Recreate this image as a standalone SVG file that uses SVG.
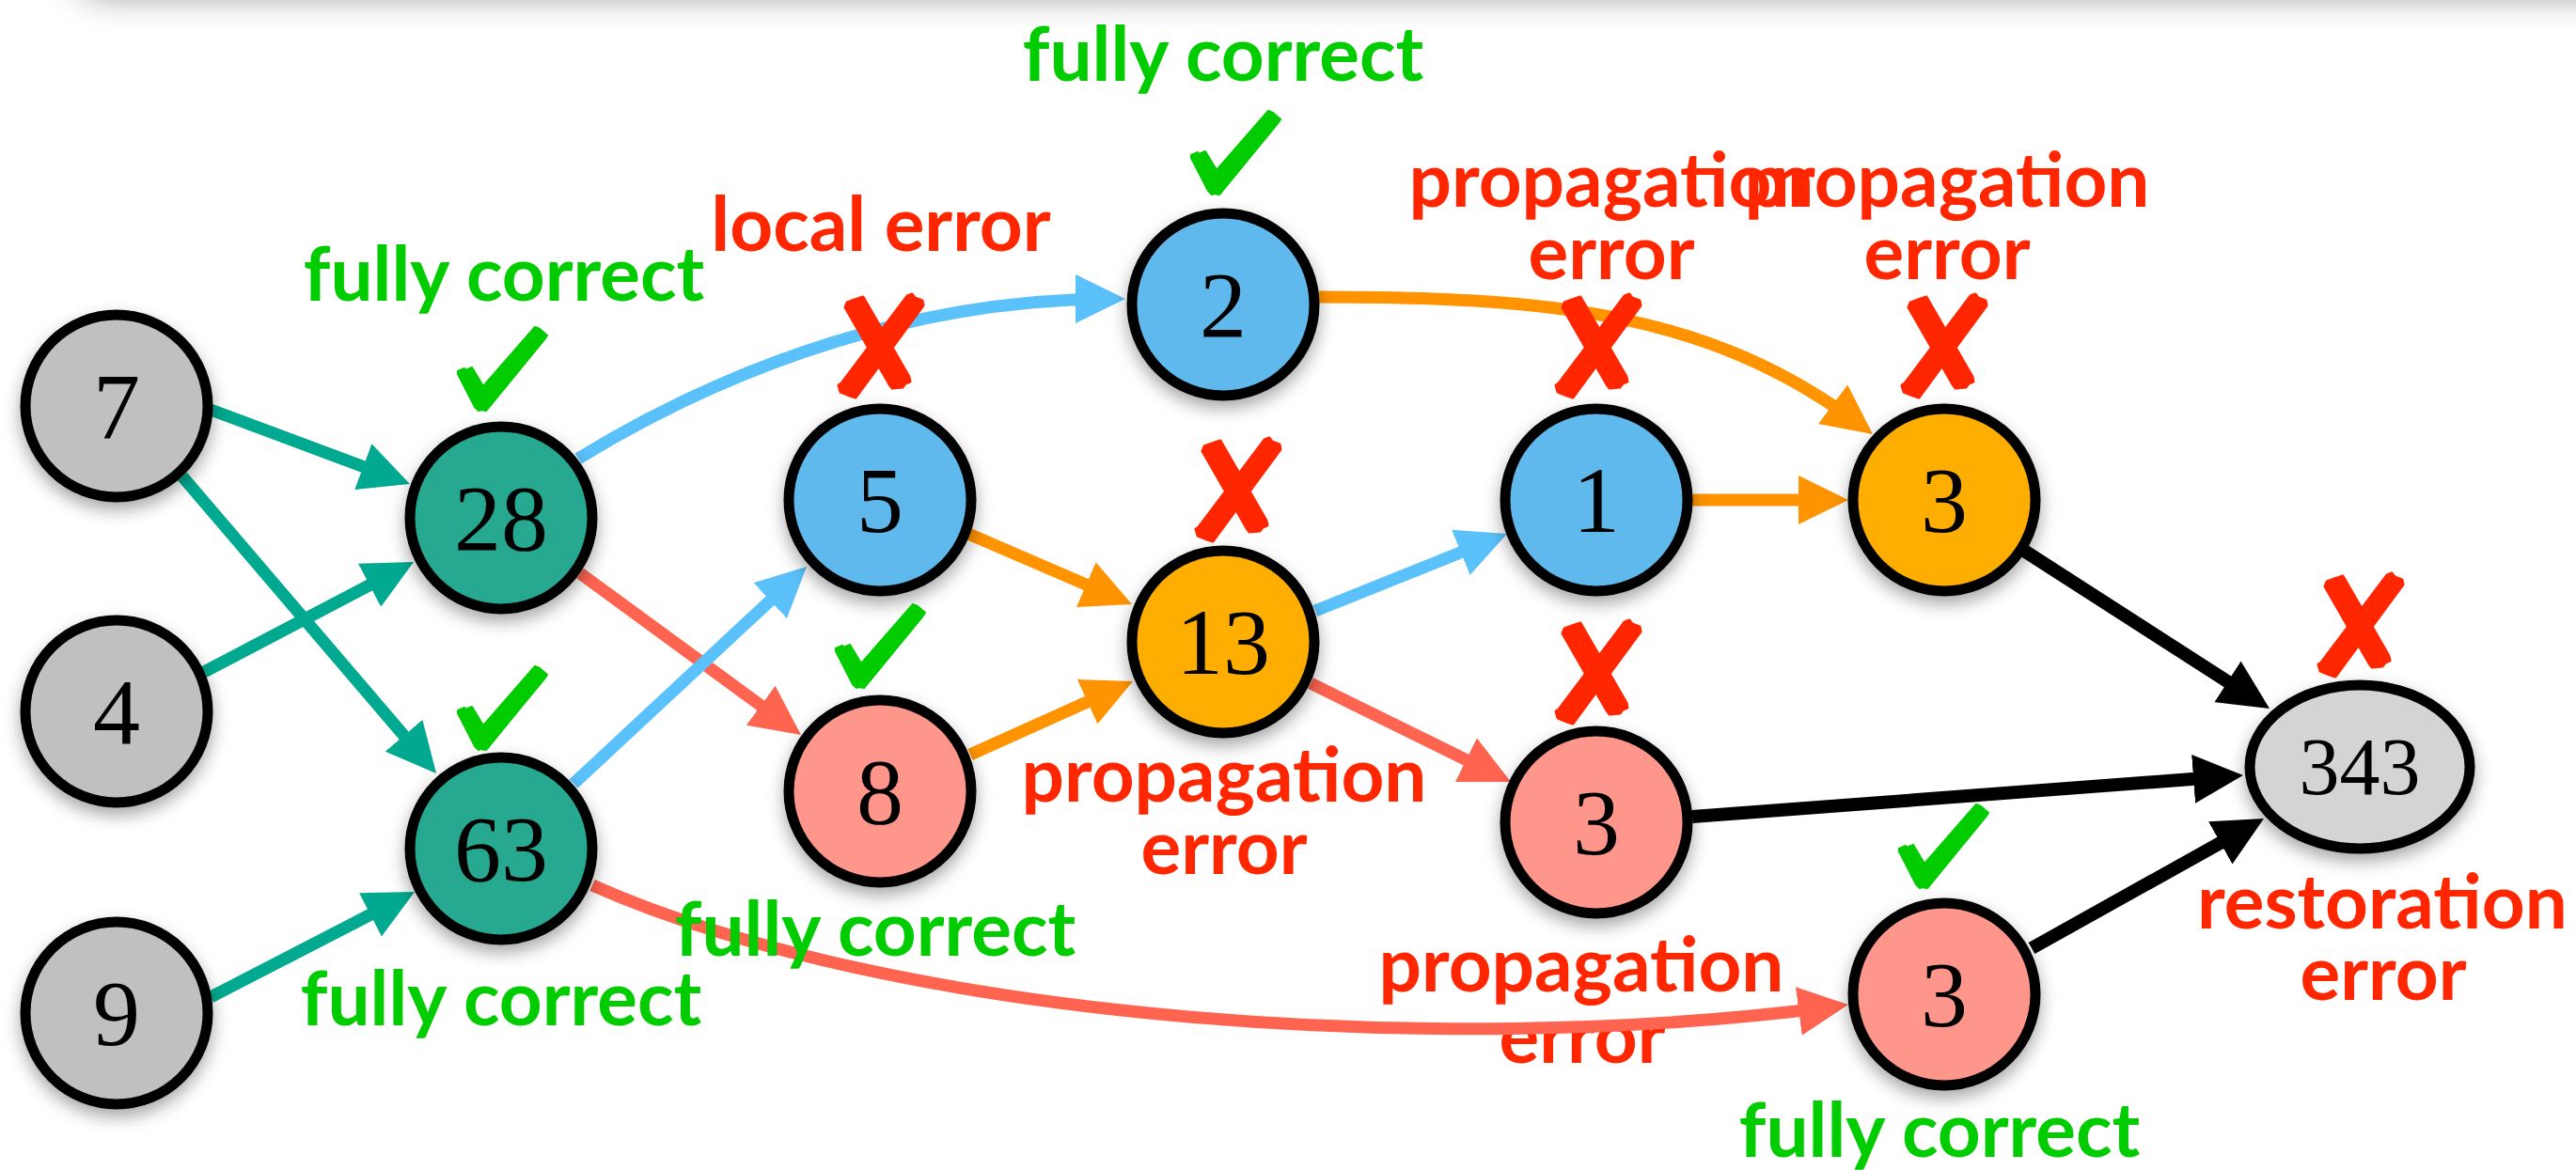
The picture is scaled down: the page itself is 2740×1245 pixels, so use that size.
<svg xmlns="http://www.w3.org/2000/svg" xmlns:xlink="http://www.w3.org/1999/xlink" width="2740" height="1245" viewBox="0 0 2740 1245">
<style>
.node{stroke:#000;stroke-width:11}
.gray{fill:#c0c0c0}.lgray{fill:#d4d4d4}.teal{fill:#26a891}.blue{fill:#61b9ec}.orange{fill:#fdae00}.pink{fill:#fe968b}
.num{font-family:"Liberation Serif","Times New Roman",serif;font-size:100px;text-anchor:middle;fill:#000}
.lbl{font-family:Lato,"Open Sans","Liberation Sans",sans-serif;font-weight:700;font-size:80px;text-anchor:middle}
.red{fill:#ff2600}.green{fill:#00cc00}
.edge{fill:none;stroke-width:13}
.e-teal{stroke:#00a98f}.e-blue{stroke:#5ac1fb}.e-orange{stroke:#ff9300}.e-pink{stroke:#ff6450}.e-black{stroke:#000;stroke-width:14}
</style>
<defs>
<filter id="sh" x="-30%" y="-30%" width="160%" height="170%"><feDropShadow dx="0" dy="8" stdDeviation="9" flood-color="#000" flood-opacity="0.35"/></filter>
<filter id="topsh" filterUnits="userSpaceOnUse" x="-200" y="-400" width="3200" height="500"><feGaussianBlur stdDeviation="20"/></filter>
<marker id="a-teal" markerUnits="userSpaceOnUse" viewBox="0 0 53 52" markerWidth="53" markerHeight="52" refX="38" refY="26" orient="auto"><path d="M0,0 L53,26 L0,52 Z" fill="#00a98f"/></marker>
<marker id="a-blue" markerUnits="userSpaceOnUse" viewBox="0 0 53 52" markerWidth="53" markerHeight="52" refX="38" refY="26" orient="auto"><path d="M0,0 L53,26 L0,52 Z" fill="#5ac1fb"/></marker>
<marker id="a-orange" markerUnits="userSpaceOnUse" viewBox="0 0 53 52" markerWidth="53" markerHeight="52" refX="38" refY="26" orient="auto"><path d="M0,0 L53,26 L0,52 Z" fill="#ff9300"/></marker>
<marker id="a-pink" markerUnits="userSpaceOnUse" viewBox="0 0 53 52" markerWidth="53" markerHeight="52" refX="38" refY="26" orient="auto"><path d="M0,0 L53,26 L0,52 Z" fill="#ff6450"/></marker>
<marker id="a-black" markerUnits="userSpaceOnUse" viewBox="0 0 53 52" markerWidth="53" markerHeight="52" refX="38" refY="26" orient="auto"><path d="M0,0 L53,26 L0,52 Z" fill="#000"/></marker>
<path id="chk" fill="#00cc00" stroke="#00cc00" stroke-width="2" stroke-linejoin="round" d="M2,48 L9,45 L10,47 L17,44 L29,64 L84,1 L89,3 L97,10 L95,13 L32,90 L26,89 L24,90 L20,86 L2,51 Z"/>
<g id="xmk" fill="#ff2600" stroke="#ff2600" stroke-width="3" stroke-linejoin="round">
<path d="M10,14 L12,9 L20,6 L29,3 L78,88 L79,93 L74,95 L71,99 L60,100 L57,96 Z"/>
<path d="M76,2 L81,0 L84,4 L92,7 L93,12 L21,110 L15,108 L5,104 L3,97 L6,95 Z"/>
</g>
</defs>
<rect width="2740" height="1245" fill="#fff"/>
<rect x="90" y="-300" width="2900" height="290" fill="#000" opacity="0.55" filter="url(#topsh)"/>

<g id="label-prop-3b">
<text class="lbl red" x="1682" y="1055">propagation</text>
<text class="lbl red" x="1683" y="1131">error</text>
</g>

<g id="connectors">
<path class="edge e-teal" marker-end="url(#a-teal)" d="M224,436 L421.9,509.8"/>
<path class="edge e-teal" marker-end="url(#a-teal)" d="M194,507 L454.3,811.6"/>
<path class="edge e-teal" marker-end="url(#a-teal)" d="M217,715 L426.7,605"/>
<path class="edge e-teal" marker-end="url(#a-teal)" d="M224,1061 L427.7,955.9"/>
<path class="edge e-blue" marker-end="url(#a-blue)" d="M615,488 C785,384 982,318 1182,318"/>
<path class="edge e-pink" marker-end="url(#a-pink)" d="M617,610 L839.9,773.2"/>
<path class="edge e-blue" marker-end="url(#a-blue)" d="M610,834 L847,613.2"/>
<path class="edge e-pink" marker-end="url(#a-pink)" d="M630,942 C950,1084 1525,1127 1951,1071"/>
<path class="edge e-orange" marker-end="url(#a-orange)" d="M1030,568 L1190.2,637.1"/>
<path class="edge e-orange" marker-end="url(#a-orange)" d="M1032,803 L1191.3,731.2"/>
<path class="edge e-orange" marker-end="url(#a-orange)" d="M1403,316 C1653,316 1820,333 1980,453"/>
<path class="edge e-blue" marker-end="url(#a-blue)" d="M1399,650 L1589.1,573.6"/>
<path class="edge e-pink" marker-end="url(#a-pink)" d="M1394,727 L1593.5,825.4"/>
<path class="edge e-orange" marker-end="url(#a-orange)" d="M1800,532 L1951,532"/>
<path class="edge e-black" marker-end="url(#a-black)" d="M2153,586 L2401.4,745.9"/>
<path class="edge e-black" marker-end="url(#a-black)" d="M1800,869 L2371,826.1"/>
<path class="edge e-black" marker-end="url(#a-black)" d="M2161,1009 L2394.9,878.3"/>
</g>

<g id="node-7" filter="url(#sh)"><circle class="node gray" cx="124" cy="432" r="97"/><text class="num" x="124" y="466">7</text></g>
<g id="node-4" filter="url(#sh)"><circle class="node gray" cx="124" cy="757" r="97"/><text class="num" x="124" y="791">4</text></g>
<g id="node-9" filter="url(#sh)"><circle class="node gray" cx="124" cy="1078" r="97"/><text class="num" x="124" y="1112">9</text></g>
<g id="node-28" filter="url(#sh)"><circle class="node teal" cx="533" cy="551" r="97"/><text class="num" x="533" y="585">28</text></g>
<g id="node-63" filter="url(#sh)"><circle class="node teal" cx="533" cy="903" r="97"/><text class="num" x="533" y="937">63</text></g>
<g id="node-5" filter="url(#sh)"><circle class="node blue" cx="936" cy="532" r="97"/><text class="num" x="936" y="566">5</text></g>
<g id="node-8" filter="url(#sh)"><circle class="node pink" cx="936" cy="842" r="97"/><text class="num" x="936" y="876">8</text></g>
<g id="node-2" filter="url(#sh)"><circle class="node blue" cx="1301" cy="324" r="97"/><text class="num" x="1301" y="358">2</text></g>
<g id="node-13" filter="url(#sh)"><circle class="node orange" cx="1301" cy="683" r="97"/><text class="num" x="1301" y="717">13</text></g>
<g id="node-1" filter="url(#sh)"><circle class="node blue" cx="1698" cy="532" r="97"/><text class="num" x="1698" y="566">1</text></g>
<g id="node-3a" filter="url(#sh)"><circle class="node orange" cx="2068" cy="532" r="97"/><text class="num" x="2068" y="566">3</text></g>
<g id="node-3b" filter="url(#sh)"><circle class="node pink" cx="1698" cy="875" r="97"/><text class="num" x="1698" y="909">3</text></g>
<g id="node-3c" filter="url(#sh)"><circle class="node pink" cx="2068" cy="1058" r="97"/><text class="num" x="2068" y="1092">3</text></g>
<g id="node-343" filter="url(#sh)"><ellipse class="node lgray" cx="2510" cy="816" rx="117" ry="87"/><text class="num" x="2510" y="845" style="font-size:86px">343</text></g>

<g id="marks">
<use href="#chk" x="1265" y="117"/>
<use href="#chk" x="485" y="347"/>
<use href="#chk" x="485" y="708"/>
<use href="#chk" x="887" y="642"/>
<use href="#chk" x="2018" y="855"/>
<use href="#xmk" x="889" y="313"/>
<use href="#xmk" x="1269" y="466"/>
<use href="#xmk" x="1652" y="313"/>
<use href="#xmk" x="2020" y="313"/>
<use href="#xmk" x="1652" y="660"/>
<use href="#xmk" x="2463" y="610"/>
</g>

<g id="labels">
<text class="lbl green" x="1301" y="86">fully correct</text>
<text class="lbl green" x="536" y="320">fully correct</text>
<text class="lbl red" x="937" y="267">local error</text>
<text class="lbl red" x="1714" y="220">propagation</text>
<text class="lbl red" x="1714" y="297">error</text>
<text class="lbl red" x="2071" y="220">propagation</text>
<text class="lbl red" x="2071" y="297">error</text>
<text class="lbl red" x="1302" y="853">propagation</text>
<text class="lbl red" x="1302" y="930">error</text>
<text class="lbl green" x="931" y="1017">fully correct</text>
<text class="lbl green" x="533" y="1091">fully correct</text>
<text class="lbl red" x="2534" y="988">restoration</text>
<text class="lbl red" x="2535" y="1064">error</text>
<text class="lbl green" x="2063" y="1231">fully correct</text>
</g>
</svg>
